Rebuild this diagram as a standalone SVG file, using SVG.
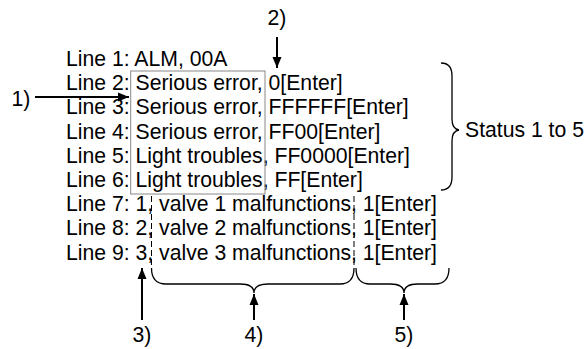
<svg xmlns="http://www.w3.org/2000/svg" width="588" height="349" viewBox="0 0 588 349">
<style>
text{font-family:"Liberation Sans",Arial,sans-serif;font-size:21.2px;fill:#000}
.br{fill:none;stroke:#000;stroke-width:1.3}
.ar{fill:none;stroke:#000;stroke-width:2}
.dash{fill:none;stroke:#000;stroke-width:1;stroke-dasharray:6,3}
</style>
<defs>
<marker id="ah" markerUnits="userSpaceOnUse" markerWidth="12" markerHeight="10" refX="11" refY="5" orient="auto">
<path d="M0,0.5 L11,5 L0,9.5 Z" fill="#000"/>
</marker>
</defs>
<rect width="588" height="349" fill="#fff"/>
<g id="listing">
<text x="66" y="66">Line 1: ALM, 00A</text>
<text x="66" y="90.2">Line 2: Serious error, 0[Enter]</text>
<text x="66" y="114.4">Line 3: Serious error, FFFFFF[Enter]</text>
<text x="66" y="138.6">Line 4: Serious error, FF00[Enter]</text>
<text x="66" y="162.8">Line 5: Light troubles, FF0000[Enter]</text>
<text x="66" y="187">Line 6: Light troubles, FF[Enter]</text>
<text x="66" y="211.2">Line 7: 1, valve 1 malfunctions, 1[Enter]</text>
<text x="66" y="235.4">Line 8: 2, valve 2 malfunctions, 1[Enter]</text>
<text x="66" y="259.6">Line 9: 3, valve 3 malfunctions, 1[Enter]</text>
</g>
<g id="status-box">
<rect x="130.7" y="71" width="134.3" height="123" fill="none" stroke="#888" stroke-width="1"/>
</g>
<g id="status-label">
<text x="465" y="137">Status 1 to 5</text>
</g>
<g id="labels">
<text x="21" y="106" text-anchor="middle">1)</text>
<text x="277" y="25" text-anchor="middle">2)</text>
<text x="142" y="342" text-anchor="middle">3)</text>
<text x="254" y="342" text-anchor="middle">4)</text>
<text x="404" y="342" text-anchor="middle">5)</text>
</g>
<g id="connectors">
<path class="dash" d="M151.5,196 V268"/>
<path class="dash" d="M354,196 V268"/>
<path class="br" d="M151.5,268 Q151.5,284 166,284 L240,284 Q254,284 254,293 Q254,284 268,284 L340,284 Q354,284 354,268"/>
<path class="br" d="M356,268 Q356,284 370,284 L390,284 Q404,284 404,293 Q404,284 418,284 L435,284 Q449,284 449,268"/>
<path class="br" d="M441,63 Q452,63 452,76 L452,119 Q452,129 459,130 Q452,131 452,141 L452,177 Q452,190 441,190"/>
<path class="ar" d="M35,97 H129" marker-end="url(#ah)"/>
<path class="ar" d="M277,37 V68" marker-end="url(#ah)"/>
<path class="ar" d="M142,320 V268" marker-end="url(#ah)"/>
<path class="ar" d="M254,320 V294" marker-end="url(#ah)"/>
<path class="ar" d="M404,320 V294" marker-end="url(#ah)"/>
</g>
</svg>
